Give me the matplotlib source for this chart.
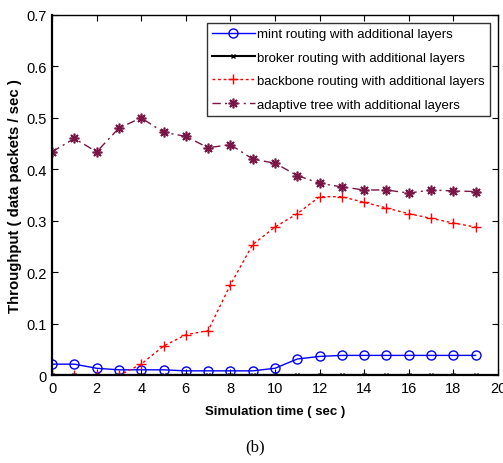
import matplotlib
matplotlib.use('Agg')
import matplotlib.pyplot as plt

# simulation time (sec)
t = list(range(20))

mint = [0.022, 0.022, 0.014, 0.011, 0.011, 0.011, 0.009, 0.009, 0.009, 0.009,
        0.014, 0.032, 0.037, 0.039, 0.039, 0.039, 0.039, 0.039, 0.039, 0.039]
broker = [0.0] * 20
backbone = [0.0, 0.0, 0.0, 0.0, 0.022, 0.057, 0.079, 0.087, 0.176, 0.254,
            0.288, 0.314, 0.347, 0.347, 0.336, 0.325, 0.314, 0.305, 0.296, 0.288]
adaptive = [0.434, 0.460, 0.434, 0.480, 0.500, 0.472, 0.464, 0.442, 0.448, 0.420,
            0.412, 0.388, 0.373, 0.366, 0.360, 0.360, 0.354, 0.360, 0.358, 0.357]

labels = ['mint routing with additional layers',
          'broker routing with additional layers',
          'backbone routing with additional layers',
          'adaptive tree with additional layers']

plt.rcParams['font.family'] = ['Liberation Sans', 'DejaVu Sans']

fig = plt.figure(figsize=(5.03, 4.64), dpi=100)
ax = fig.add_axes([0.1034, 0.1886, 0.8866, 0.7774])

ax.plot(t, mint, color='#0000ff', lw=1, marker='o', ms=6.5, mfc='none', mew=1, label=labels[0])
ax.plot(t, broker, color='black', lw=1.5, marker='x', ms=3, mew=1, label=labels[1])
ax.plot(t, backbone, color='#ff0000', lw=1, ls=(0, (2, 2)), marker='+', ms=7, mew=1, label=labels[2])
ax.plot(t, adaptive, color='#7a1545', lw=1, ls=(0, (6, 3, 1.5, 3)), marker=(8, 2, 0), ms=7,
        mew=1.2, mec='#7a1545', label=labels[3])

ax.set_xlim(0, 20)
ax.set_ylim(0, 0.7)
ax.set_xticks(range(0, 21, 2))
ax.set_yticks([0, 0.1, 0.2, 0.3, 0.4, 0.5, 0.6, 0.7])
ax.set_yticklabels(['0', '0.1', '0.2', '0.3', '0.4', '0.5', '0.6', '0.7'])
ax.tick_params(direction='in', top=True, right=True, length=4, labelsize=10.5, pad=4)
for s in ['left', 'bottom']:
    ax.spines[s].set_linewidth(1.6)
for s in ['top', 'right']:
    ax.spines[s].set_linewidth(1.0)

ax.set_xlabel('Simulation time ( sec )', fontsize=9.5, fontweight='bold', labelpad=7)
ax.set_ylabel('Throughput ( data packets / sec )', fontsize=10.8, fontweight='bold', labelpad=3)

leg = ax.legend(loc='upper right', fontsize=9.5, frameon=True, fancybox=False,
                edgecolor='black', handlelength=3.2, borderpad=0.4, labelspacing=0.85,
                handletextpad=0.2, borderaxespad=0.6)
leg.get_frame().set_linewidth(1.0)

fig.text(0.507, 0.018, '(b)', fontsize=12, family=['Liberation Serif'], ha='center', va='bottom')

fig.savefig('out.png', dpi=100)
